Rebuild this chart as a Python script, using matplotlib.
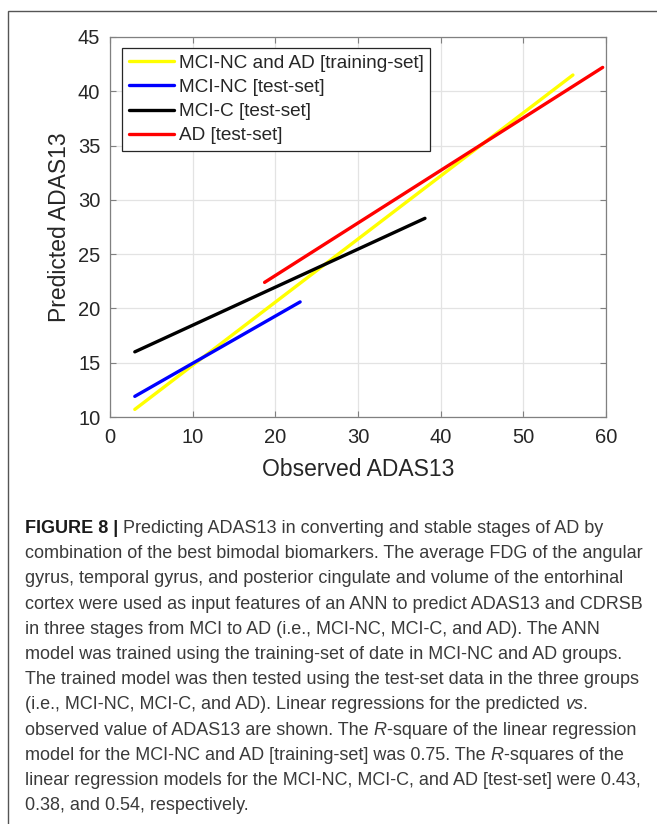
import matplotlib
matplotlib.use("Agg")
import matplotlib.pyplot as plt
from matplotlib.patches import Rectangle

# ---- data ----
series_labels = ["MCI-NC and AD [training-set]", "MCI-NC [test-set]",
                 "MCI-C [test-set]", "AD [test-set]"]
series_colors = ["#ffff00", "#0000ff", "#000000", "#ff0000"]
train_x = [3.0, 56.0]
train_y = [10.7, 41.5]
mcinc_x = [3.0, 23.0]
mcinc_y = [11.9, 20.6]
mcic_x = [3.0, 38.1]
mcic_y = [16.0, 28.3]
ad_x = [18.7, 59.6]
ad_y = [22.4, 42.2]
xticks = [0, 10, 20, 30, 40, 50, 60]
yticks = [10, 15, 20, 25, 30, 35, 40, 45]

W, H = 657, 824
fig = plt.figure(figsize=(W / 100, H / 100), dpi=100)
fig.patch.set_facecolor("white")
plt.rcParams['font.family'] = ['Liberation Sans', 'DejaVu Sans']

# outer frame
fig.add_artist(Rectangle((7.5 / W, -0.05), 1.2, 1 - 11 / H + 0.05,
                         transform=fig.transFigure, fill=False,
                         edgecolor="#555555", linewidth=1.0))

ax = fig.add_axes([110 / W, 1 - 417 / H, (606 - 110) / W, (417 - 37) / H])
xs = [train_x, mcinc_x, mcic_x, ad_x]
ys = [train_y, mcinc_y, mcic_y, ad_y]
for x, y, c, lab in zip(xs, ys, series_colors, series_labels):
    ax.plot(x, y, color=c, linewidth=2.4, label=lab, solid_capstyle='round')

ax.set_xlim(0, 60)
ax.set_ylim(10, 45)
ax.set_xticks(xticks)
ax.set_yticks(yticks)
ax.grid(True, color="#e3e3e3", linewidth=0.9)
ax.set_axisbelow(True)
for s in ax.spines.values():
    s.set_color("#808080")
    s.set_linewidth(0.9)
ax.tick_params(direction='in', length=4.5, width=0.8, color="#808080",
               top=True, right=True, labelsize=14.5, labelcolor="#262626")
ax.tick_params(axis='x', pad=8)
ax.tick_params(axis='y', pad=7)
ax.set_xlabel("Observed ADAS13", fontsize=16.5, color="#262626", labelpad=8)
ax.set_ylabel("Predicted ADAS13", fontsize=16.5, color="#262626", labelpad=5)

leg = ax.legend(loc='upper left', bbox_to_anchor=((122 - 110) / 496, (417 - 48) / 380),
                borderaxespad=0, fontsize=13.7, handlelength=2.37, handletextpad=0.26,
                labelspacing=0.36, borderpad=0.35, fancybox=False, framealpha=1)
leg.get_frame().set_edgecolor("#262626")
leg.get_frame().set_linewidth(0.9)
for t in leg.get_texts():
    t.set_color("#262626")

# ---- caption ----
cap_lines = [
    [("FIGURE 8 |", "bold"), (" Predicting ADAS13 in converting and stable stages of AD by", "normal")],
    [("combination of the best bimodal biomarkers. The average FDG of the angular", "normal")],
    [("gyrus, temporal gyrus, and posterior cingulate and volume of the entorhinal", "normal")],
    [("cortex were used as input features of an ANN to predict ADAS13 and CDRSB", "normal")],
    [("in three stages from MCI to AD (i.e., MCI-NC, MCI-C, and AD). The ANN", "normal")],
    [("model was trained using the training-set of date in MCI-NC and AD groups.", "normal")],
    [("The trained model was then tested using the test-set data in the three groups", "normal")],
    [("(i.e., MCI-NC, MCI-C, and AD). Linear regressions for the predicted ", "normal"), ("vs", "italic"), (".", "normal")],
    [("observed value of ADAS13 are shown. The ", "normal"), ("R", "italic"), ("-square of the linear regression", "normal")],
    [("model for the MCI-NC and AD [training-set] was 0.75. The ", "normal"), ("R", "italic"), ("-squares of the", "normal")],
    [("linear regression models for the MCI-NC, MCI-C, and AD [test-set] were 0.43,", "normal")],
    [("0.38, and 0.54, respectively.", "normal")],
]
cap_fs = 13.0
base0 = 533
step = 25.2
for i, parts in enumerate(cap_lines):
    yb = 1 - (base0 + i * step) / H
    prev = None
    for txt, sty in parts:
        kw = dict(fontsize=cap_fs, color="#3a3a3a")
        if sty == "bold":
            kw.update(fontweight="bold", color="#1a1a1a")
        elif sty == "italic":
            kw.update(fontstyle="italic")
        if prev is None:
            prev = fig.text(25 / W, yb, txt, ha='left', va='baseline', **kw)
        else:
            prev = plt.annotate(txt, xy=(1, 0), xycoords=prev, ha='left', va='bottom',
                                annotation_clip=False, **kw)

fig.savefig("out.png", dpi=100, facecolor="white")
